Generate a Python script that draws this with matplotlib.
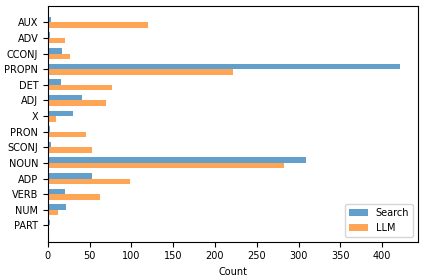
import numpy as np
import matplotlib
matplotlib.use('Agg')
import matplotlib.pyplot as plt

# Dados
categories = ['AUX', 'ADV', 'CCONJ', 'PROPN', 'DET', 'ADJ', 'X', 'PRON',
              'SCONJ', 'NOUN', 'ADP', 'VERB', 'NUM', 'PART']
search_counts = [4, 3, 17, 422, 16, 41, 30, 3, 4, 309, 53, 21, 22, 3]
llm_counts = [120, 21, 26, 222, 77, 70, 10, 46, 53, 283, 98, 62, 12, 0]

plt.rcParams['font.size'] = 7

fig, ax = plt.subplots(figsize=(4.24, 2.8), dpi=100)
plt.subplots_adjust(left=0.113, right=0.986, top=0.978, bottom=0.137)

y = np.arange(len(categories))
h = 0.35
ax.barh(y - h / 2, search_counts, height=h, color='tab:blue', alpha=0.7, label='Search')
ax.barh(y + h / 2, llm_counts, height=h, color='tab:orange', alpha=0.7, label='LLM')

ax.set_yticks(y)
ax.set_yticklabels(categories)
ax.invert_yaxis()
ax.set_xlabel('Count')
ax.legend(loc='lower right')

plt.savefig('out.png')
